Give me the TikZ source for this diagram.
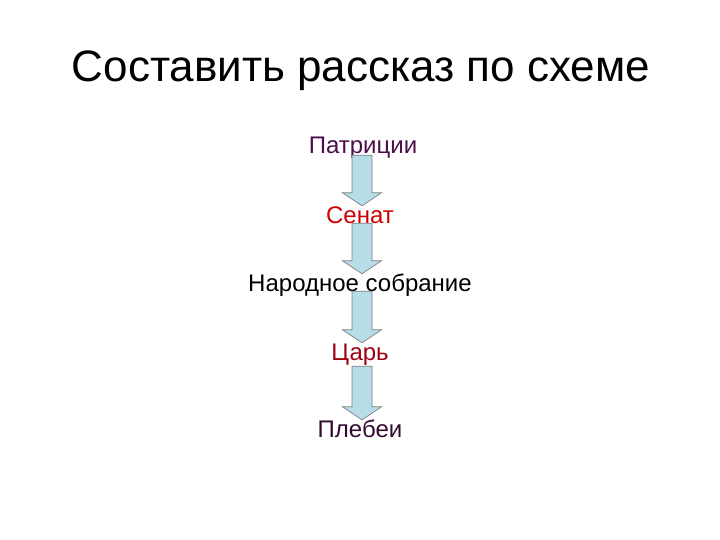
\documentclass[tikz,border=0pt]{standalone}
\usepackage{fontspec}
\setmainfont{Liberation Sans}
\usetikzlibrary{calc}
\definecolor{cpat}{HTML}{4C0F4C}
\definecolor{csen}{HTML}{CC0000}
\definecolor{ccar}{HTML}{A00012}
\definecolor{cple}{HTML}{300A30}
\definecolor{arrowfill}{HTML}{B6DDE8}
\definecolor{arrowline}{HTML}{7F7F7F}
\newcommand\blockarrow[3]{%
  \coordinate (t) at ($(ax |- #1.south)+(0,#3)$);
  \coordinate (b) at (ax |- #2.north);
  \draw[blk] ($(t)+(-10,0)$) -- ($(b)+(-10,-13)$) -- ($(b)+(-19.5,-13)$) -- (b)
    -- ($(b)+(19.5,-13)$) -- ($(b)+(10,-13)$) -- ($(t)+(10,0)$) -- cycle;
}
\begin{document}
\begin{tikzpicture}[x=1pt,y=-1pt,
  lbl/.style={font=\fontsize{24}{28}\selectfont, inner sep=0pt, text height=17pt, text depth=0pt, anchor=base},
  blk/.style={fill=arrowfill, draw=arrowline, line width=0.7pt, line join=miter}]
\useasboundingbox (0,0) rectangle (720,540);
\coordinate (ax) at (362,0);
\node[font=\fontsize{44}{50}\selectfont, inner sep=0pt, anchor=base] (title) at (361,82) {Составить рассказ по схеме};
\node[lbl, text=cpat] (pat) at (363,154) {Патриции};
\node[lbl, text=csen] (sen) at (360,223) {Сенат};
\node[lbl, text=black] (nar) at (360,291) {Народное собрание};
\node[lbl, text=ccar] (car) at (360,360) {Царь};
\node[lbl, text=cple] (ple) at (360,437) {Плебеи};
\blockarrow{pat}{sen}{1}
\blockarrow{sen}{nar}{0}
\blockarrow{nar}{car}{0}
\blockarrow{car}{ple}{6}
\end{tikzpicture}
\end{document}
